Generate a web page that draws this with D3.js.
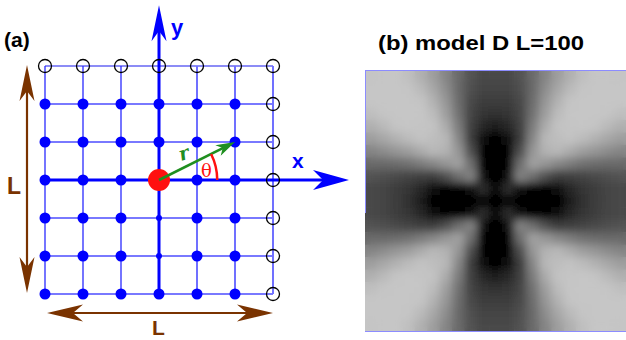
<!DOCTYPE html>
<html>
<head>
<meta charset="utf-8">
<script src="https://cdn.jsdelivr.net/npm/d3@7"></script>
<style>
  body { margin: 0; background: #fff; }
  svg { display: block; }
</style>
</head>
<body>
<svg id="fig" width="626" height="340"></svg>
<script>
// panel (a): lattice sites in lattice units
const latticeX = [-3, -2, -1, 0, 1, 2, 3];
const latticeY = [3, 2, 1, 0, -1, -2, -3];
const smallSites = [[0, -1], [0, -2]];
const origin = [0, 0];
const rVector = [2, 1];
const axisTipX = 5.0;   // x axis arrow tip, lattice units
const axisTipY = 4.6;   // y axis arrow tip

// panel (b): grey level (0 black .. 255 white), 21 x 21 cells
const heatTitle = '(b) model D L=100';
const heatValues = [
  [197,198,198,191,176,158,133,106,83,73,73,73,83,106,133,158,176,191,198,198,197],
  [198,198,198,197,186,167,141,107,79,69,68,69,79,107,141,167,186,197,198,198,198],
  [198,198,198,198,196,178,150,109,74,62,60,62,74,109,150,178,196,198,198,198,198],
  [191,197,198,198,198,188,159,114,69,52,48,52,69,114,159,188,198,198,198,197,191],
  [176,186,196,198,196,195,172,125,65,40,30,40,65,125,172,195,196,198,196,186,176],
  [158,167,178,188,195,190,184,136,62,15,5,15,62,136,184,190,195,188,178,167,158],
  [133,141,150,159,172,184,178,150,80,5,0,5,80,150,178,184,172,159,150,141,133],
  [106,107,109,114,125,136,150,160,110,5,0,5,110,160,150,136,125,114,109,107,106],
  [83,79,74,69,65,62,80,110,130,10,0,10,130,110,80,62,65,69,74,79,83],
  [73,69,62,52,40,15,5,5,10,45,0,45,10,5,5,15,40,52,62,69,73],
  [73,68,60,48,30,5,0,0,0,0,0,0,0,0,0,5,30,48,60,68,73],
  [73,69,62,52,40,15,5,5,10,45,0,45,10,5,5,15,40,52,62,69,73],
  [83,79,74,69,65,62,80,110,130,10,0,10,130,110,80,62,65,69,74,79,83],
  [106,107,109,114,125,136,150,160,110,5,0,5,110,160,150,136,125,114,109,107,106],
  [133,141,150,159,172,184,178,150,80,5,0,5,80,150,178,184,172,159,150,141,133],
  [158,167,178,188,195,190,184,136,62,15,5,15,62,136,184,190,195,188,178,167,158],
  [176,186,196,198,196,195,172,125,65,40,30,40,65,125,172,195,196,198,196,186,176],
  [191,197,198,198,198,188,159,114,69,52,48,52,69,114,159,188,198,198,198,197,191],
  [198,198,198,198,196,178,150,109,74,62,60,62,74,109,150,178,196,198,198,198,198],
  [198,198,198,197,186,167,141,107,79,69,68,69,79,107,141,167,186,197,198,198,198],
  [197,198,198,191,176,158,133,106,83,73,73,73,83,106,133,158,176,191,198,198,197]
];

const svg = d3.select('#fig');
const defs = svg.append('defs');

const blue = '#0000ff';
const brown = '#7a3300';
const green = '#1f8f1f';
const red = '#ff1010';
const sans = 'Liberation Sans, Arial, sans-serif';

// ---------- panel (a) ----------
const sx = d3.scaleLinear().domain([-3, 3]).range([45, 273]);
const sy = d3.scaleLinear().domain([3, -3]).range([66, 294]);

// notched arrow head, tip at (x, y), pointing along angle (radians)
function arrowHead(g, x, y, angle, len, wid, color) {
  const p = d3.path();
  p.moveTo(0, 0);
  p.lineTo(-len, -wid / 2);
  p.lineTo(-len * 0.72, 0);
  p.lineTo(-len, wid / 2);
  p.closePath();
  g.append('path')
    .attr('d', p.toString())
    .attr('fill', color)
    .attr('transform', `translate(${x},${y}) rotate(${angle * 180 / Math.PI})`);
}

const gA = svg.append('g');

// grid rows
gA.selectAll('line.row')
  .data(latticeY.filter((d) => d !== 0))
  .join('line')
  .attr('class', 'row')
  .attr('x1', sx(-3)).attr('x2', sx(3))
  .attr('y1', (d) => sy(d)).attr('y2', (d) => sy(d))
  .attr('stroke', (d) => (d === 3 ? '#1a1aee' : '#4c4cff'))
  .attr('stroke-width', (d) => (d === 3 ? 1.2 : 1.6));

// grid columns
gA.selectAll('line.col')
  .data(latticeX.filter((d) => d !== 0))
  .join('line')
  .attr('class', 'col')
  .attr('x1', (d) => sx(d)).attr('x2', (d) => sx(d))
  .attr('y1', sy(3)).attr('y2', sy(-3))
  .attr('stroke', (d) => (d < 0 ? '#2a2aff' : '#7070ff'))
  .attr('stroke-width', (d) => (d < 0 ? 1.3 : 2));

// axes
gA.append('line')
  .attr('x1', sx(-3)).attr('x2', sx(axisTipX) - 20)
  .attr('y1', sy(0)).attr('y2', sy(0))
  .attr('stroke', blue).attr('stroke-width', 3);
arrowHead(gA, sx(axisTipX), sy(0), 0, 36, 20, blue);
gA.append('line')
  .attr('x1', sx(0)).attr('x2', sx(0))
  .attr('y1', sy(-3)).attr('y2', sy(axisTipY) + 20)
  .attr('stroke', blue).attr('stroke-width', 3);
arrowHead(gA, sx(0), sy(axisTipY), -Math.PI / 2, 36, 15, blue);

// sites
const sites = [];
latticeY.forEach((y) => latticeX.forEach((x) => sites.push([x, y])));
const isOpen = (d) => d[1] === 3 || d[0] === 3;
const isSmall = (d) => smallSites.some((s) => s[0] === d[0] && s[1] === d[1]);
const isOrigin = (d) => d[0] === origin[0] && d[1] === origin[1];

gA.selectAll('circle.site')
  .data(sites.filter((d) => !isOpen(d) && !isOrigin(d)))
  .join('circle')
  .attr('class', 'site')
  .attr('cx', (d) => sx(d[0])).attr('cy', (d) => sy(d[1]))
  .attr('r', (d) => (isSmall(d) ? 3 : 5.5))
  .attr('fill', blue);

gA.selectAll('circle.open')
  .data(sites.filter(isOpen))
  .join('circle')
  .attr('class', 'open')
  .attr('cx', (d) => sx(d[0])).attr('cy', (d) => sy(d[1]))
  .attr('r', 6.5)
  .attr('fill', 'none')
  .attr('stroke', '#000')
  .attr('stroke-width', 1.3);

gA.append('circle')
  .attr('cx', sx(origin[0])).attr('cy', sy(origin[1]))
  .attr('r', 11).attr('fill', red);

// r vector
const x0 = sx(origin[0]), y0 = sy(origin[1]);
const x1 = sx(rVector[0]), y1 = sy(rVector[1]);
const ang = Math.atan2(y1 - y0, x1 - x0);
gA.append('line')
  .attr('x1', x0).attr('y1', y0)
  .attr('x2', x1 - 12 * Math.cos(ang)).attr('y2', y1 - 12 * Math.sin(ang))
  .attr('stroke', green).attr('stroke-width', 2.6);
arrowHead(gA, x1, y1, ang, 19, 12, green);

gA.append('text')
  .attr('transform', `translate(181,161) rotate(-18)`)
  .attr('font-family', 'DejaVu Serif')
  .attr('font-style', 'italic').attr('font-weight', 'bold')
  .attr('font-size', 19).attr('fill', green)
  .text('r');

// theta arc
gA.append('path')
  .attr('transform', `translate(${x0},${y0})`)
  .attr('d', d3.arc()
    .innerRadius(57).outerRadius(59.5)
    .startAngle(Math.PI / 2 + ang).endAngle(Math.PI / 2))
  .attr('fill', red);
gA.append('text')
  .attr('x', 201).attr('y', 177)
  .attr('font-family', 'DejaVu Serif')
  .attr('font-size', 18).attr('fill', red)
  .text('θ');

// axis labels
gA.append('text')
  .attr('x', 171).attr('y', 35)
  .attr('font-family', sans)
  .attr('font-weight', 'bold').attr('font-size', 22).attr('fill', blue)
  .text('y');
gA.append('text')
  .attr('x', 292).attr('y', 168)
  .attr('font-family', sans)
  .attr('font-weight', 'bold').attr('font-size', 21).attr('fill', blue)
  .text('x');

// size arrows
const vx = sx(-3) - 18;
gA.append('line')
  .attr('x1', vx).attr('x2', vx)
  .attr('y1', sy(3) + 20).attr('y2', sy(-3) - 20)
  .attr('stroke', brown).attr('stroke-width', 2.2);
arrowHead(gA, vx, sy(3) - 1, -Math.PI / 2, 36, 15, brown);
arrowHead(gA, vx, sy(-3) - 1, Math.PI / 2, 36, 15, brown);

const hy = sy(-3) + 19;
gA.append('line')
  .attr('x1', sx(-3) + 20).attr('x2', sx(3) - 20)
  .attr('y1', hy).attr('y2', hy)
  .attr('stroke', brown).attr('stroke-width', 2.2);
arrowHead(gA, sx(-3) + 2, hy, Math.PI, 36, 17, brown);
arrowHead(gA, sx(3), hy, 0, 36, 17, brown);

gA.append('text')
  .attr('x', 7).attr('y', 194)
  .attr('font-family', sans)
  .attr('font-weight', 'bold').attr('font-size', 23).attr('fill', brown)
  .text('L');
gA.append('text')
  .attr('x', 152).attr('y', 335)
  .attr('font-family', sans)
  .attr('font-weight', 'bold').attr('font-size', 21).attr('fill', brown)
  .text('L');

gA.append('text')
  .attr('x', 4).attr('y', 47)
  .attr('font-family', sans)
  .attr('font-weight', 'bold').attr('font-size', 21).attr('fill', '#000')
  .text('(a)');

// ---------- panel (b) ----------
const hx = d3.scaleBand().domain(d3.range(heatValues[0].length)).range([365, 626]);
const hyS = d3.scaleBand().domain(d3.range(heatValues.length)).range([70, 332]);
const grey = d3.scaleLinear().domain([0, 255]).range(['#000', '#fff']);

defs.append('clipPath').attr('id', 'heatClip')
  .append('rect')
  .attr('x', 365).attr('y', 70).attr('width', 261).attr('height', 262);
defs.append('filter').attr('id', 'soft')
  .attr('x', '-10%').attr('y', '-10%').attr('width', '120%').attr('height', '120%')
  .append('feGaussianBlur').attr('stdDeviation', 4.5);

const cells = [];
heatValues.forEach((row, r) => row.forEach((v, c) => cells.push({ r, c, v })));

const gB = svg.append('g').attr('clip-path', 'url(#heatClip)');
[null, 'url(#soft)'].forEach((flt) => {
  gB.append('g')
    .attr('filter', flt)
    .selectAll('rect')
    .data(cells)
    .join('rect')
    .attr('x', (d) => hx(d.c)).attr('y', (d) => hyS(d.r))
    .attr('width', hx.bandwidth() + 0.5).attr('height', hyS.bandwidth() + 0.5)
    .attr('fill', (d) => grey(d.v));
});

// thin frame pieces
svg.append('line').attr('x1', 365).attr('x2', 626).attr('y1', 70.5).attr('y2', 70.5)
  .attr('stroke', '#8c8cff').attr('stroke-width', 1);
svg.append('line').attr('x1', 365).attr('x2', 626).attr('y1', 331.5).attr('y2', 331.5)
  .attr('stroke', '#8c8cff').attr('stroke-width', 1);
svg.append('line').attr('x1', 365.5).attr('x2', 365.5).attr('y1', 70).attr('y2', 213)
  .attr('stroke', '#8c8cff').attr('stroke-width', 1);

svg.append('text')
  .attr('x', 378).attr('y', 50)
  .attr('font-family', sans)
  .attr('font-weight', 'bold').attr('font-size', 20.5).attr('fill', '#000')
  .attr('textLength', 206).attr('lengthAdjust', 'spacingAndGlyphs')
  .text(heatTitle);
</script>
</body>
</html>
